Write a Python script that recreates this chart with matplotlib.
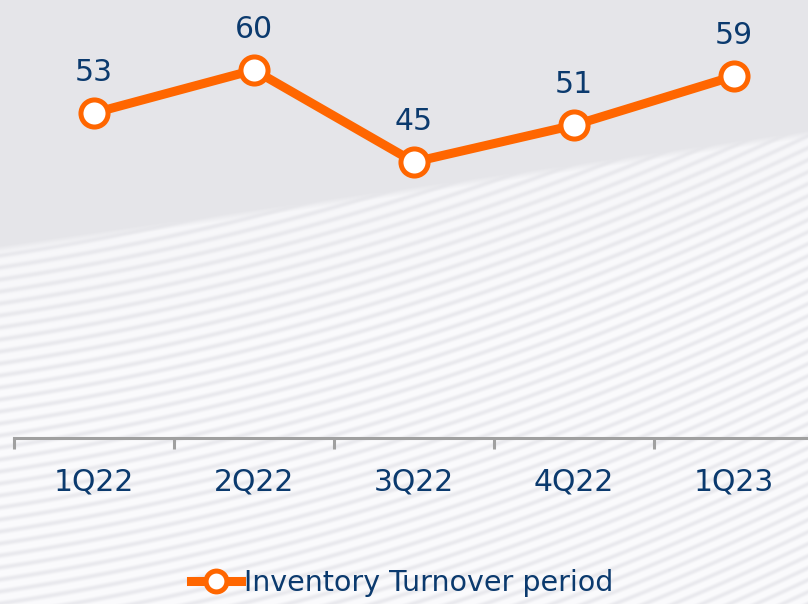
import numpy as np
import matplotlib
matplotlib.use("Agg")
import matplotlib.pyplot as plt
from matplotlib.lines import Line2D

categories = ["1Q22", "2Q22", "3Q22", "4Q22", "1Q23"]
values = [53, 60, 45, 51, 59]
series_name = "Inventory Turnover period"

W, H = 808, 604
fig = plt.figure(figsize=(W / 100, H / 100), dpi=100)

# background texture
yy, xx = np.mgrid[0:H, 0:W].astype(float)
edge = 245 - (115 / 808) * xx
base = np.array([229, 229, 233]) / 255.0
white = np.array([251, 251, 253]) / 255.0
stripe_gray = np.array([228, 228, 233]) / 255.0
phase = (yy + 0.15 * xx + 0.002 * xx * xx / 10) / 12.0 * 2 * np.pi
s = (np.sin(phase) + 1) / 2
s = s ** 2
below = np.clip((yy - edge) / 8.0, 0, 1)
fade = np.clip((yy - edge) / 150.0, 0, 1)
tex = white[None, None, :] * (1 - s[..., None] * 0.75) + stripe_gray[None, None, :] * (s[..., None] * 0.75)
tex = tex * (0.8 + 0.2 * fade[..., None]) + base[None, None, :] * (0.2 * (1 - fade[..., None]))
img = base[None, None, :] * (1 - below[..., None]) + tex * below[..., None]
bg = fig.add_axes([0, 0, 1, 1])
bg.imshow(img, extent=[0, W, H, 0], aspect="auto", interpolation="bilinear")
bg.set_axis_off()

# main axes
px_per_unit = 276 / 45.0
axis_y = 438
ymax = axis_y / px_per_unit
ax = fig.add_axes([14 / W, (H - axis_y) / H, 800 / W, axis_y / H])
ax.patch.set_alpha(0)
x = np.arange(len(categories))
orange = "#FF6600"
navy = "#0B3A6E"
fs = 21.5
ax.plot(x, values, color=orange, lw=6.5, marker="o", ms=19.5, mfc="white",
        mec=orange, mew=3.6, solid_joinstyle="miter", zorder=3, clip_on=False)
for xi, v in zip(x, values):
    ax.annotate(str(v), (xi, v), xytext=(0, 19), textcoords="offset points",
                ha="center", va="bottom", fontsize=fs, color=navy,
                family="DejaVu Sans")
ax.set_xlim(-0.5, len(categories) - 0.5)
ax.set_ylim(0, ymax)
for sp in ["top", "right", "left"]:
    ax.spines[sp].set_visible(False)
ax.spines["bottom"].set_color("#A0A0A0")
ax.spines["bottom"].set_linewidth(2.2)
ax.set_yticks([])
ax.set_xticks(np.arange(-0.5, len(categories), 1.0))
ax.set_xticklabels([])
ax.tick_params(axis="x", which="major", length=8, width=2.2, color="#A0A0A0", direction="out")
for xi, c in zip(x, categories):
    ax.text(xi, -44 / px_per_unit, c, ha="center", va="center",
            fontsize=fs, color=navy, family="DejaVu Sans", clip_on=False)

handle = Line2D([0], [0], color=orange, lw=6.5, marker="o", ms=15, mfc="white",
                mec=orange, mew=3.6)
fig.legend([handle], [series_name], loc="center", bbox_to_anchor=(402 / W, (H - 583) / H),
           frameon=False, labelcolor=navy, handlelength=1.75,
           handletextpad=0.1, prop={"family": "DejaVu Sans", "size": 20.5})

fig.savefig("out.png", dpi=100)
